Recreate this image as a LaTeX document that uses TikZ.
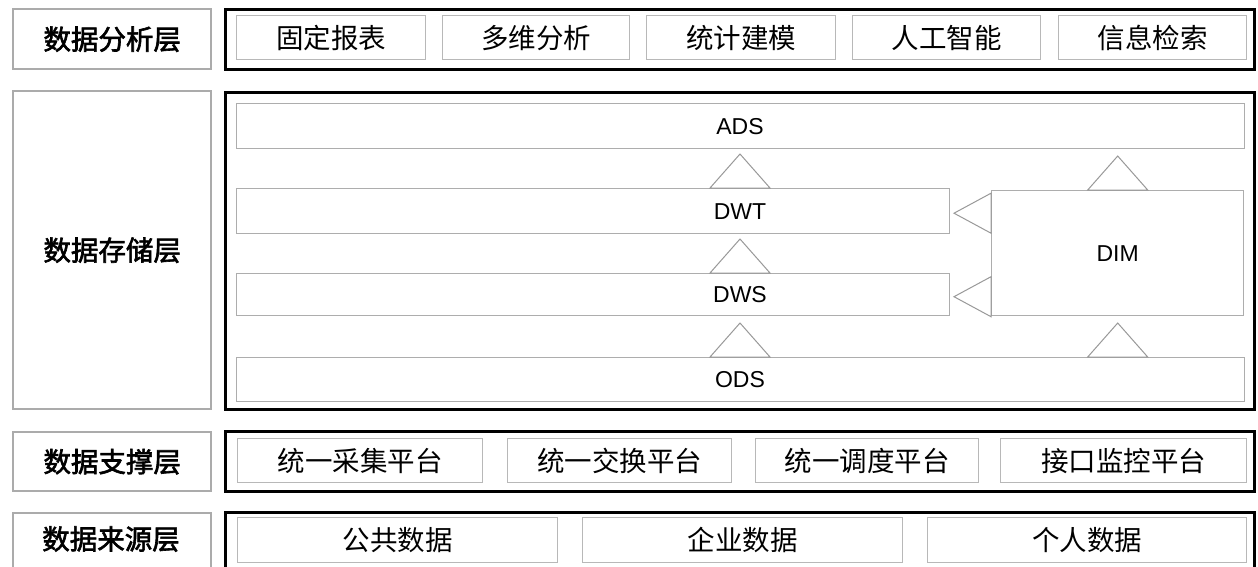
\documentclass[tikz,border=0pt]{standalone}
\usepackage{fontspec}
\setmainfont{Liberation Sans}
\newfontfamily\cjk{Noto Sans CJK SC}
\newfontfamily\cjkb[FakeBold=2.2]{Noto Sans CJK SC}
\newcommand\bx[7]{\node[#2, anchor=north west, minimum width={#5-#3}, minimum height={#6-#4}] (#1) at (#3,#4) {#7};}
\tikzset{
  lbl/.style={draw=black!33, line width=2.4pt, fill=white, inner sep=0pt, font=\cjkb\fontsize{27.5}{30}\selectfont},
  outer/.style={draw=black, line width=3.4pt, inner sep=0pt},
  ibox/.style={draw=black!28, line width=1.4pt, inner sep=0pt, font=\cjk\fontsize{27.5}{30}\selectfont},
  sbox/.style={draw=black!32, line width=1.4pt, inner sep=0pt, font=\fontsize{23}{26}\selectfont},
  txt/.style={inner sep=0pt, font=\fontsize{23}{26}\selectfont},
  tri/.style={draw=black!40, line width=1pt, line join=miter},
  uptri/.pic={\draw[tri] (-30,0) -- (0,-34) -- (30,0) -- cycle;},
  lefttri/.pic={\draw[tri] (0,-20) -- (-37,0) -- (0,20) -- cycle;}
}
\begin{document}
\begin{tikzpicture}[x=1pt,y=-1pt]
\useasboundingbox[fill=white] (0,0) rectangle (1258,566);
% row 1
\bx{l1}{lbl}{12}{8}{210}{68}{数据分析层}
\bx{o1}{outer}{224}{8}{1253}{68}{}
\bx{a1}{ibox}{236}{15}{425}{59}{固定报表}
\bx{a2}{ibox}{442}{15}{629}{59}{多维分析}
\bx{a3}{ibox}{646}{15}{835}{59}{统计建模}
\bx{a4}{ibox}{852}{15}{1040}{59}{人工智能}
\bx{a5}{ibox}{1058}{15}{1246}{59}{信息检索}
% row 2
\bx{l2}{lbl}{12}{90}{210}{408}{数据存储层}
\bx{o2}{outer}{224}{91}{1253}{408}{}
\bx{ads}{sbox}{236}{103}{1244}{148}{}
\bx{dwt}{sbox}{236}{188}{949}{233}{}
\bx{dws}{sbox}{236}{273}{949}{315}{}
\bx{ods}{sbox}{236}{357}{1244}{401}{}
\bx{dim}{sbox}{991}{190}{1243}{315}{DIM}
\coordinate (cx) at (740,0);
\node[txt] (tads) at (ads -| cx) {ADS};
\node[txt] (tdwt) at (dwt -| cx) {DWT};
\node[txt] (tdws) at (dws -| cx) {DWS};
\node[txt] (tods) at (ods -| cx) {ODS};
\pic at (dwt.north -| cx) {uptri};
\pic at (dws.north -| cx) {uptri};
\pic at (ods.north -| cx) {uptri};
\pic at (dim.north) {uptri};
\pic at (ods.north -| dim) {uptri};
\pic at ([yshift=-2]dim.west |- dwt) {lefttri};
\pic at ([yshift=-2]dim.west |- dws) {lefttri};
% row 3
\bx{l3}{lbl}{12}{431}{210}{490}{数据支撑层}
\bx{o3}{outer}{224}{430}{1253}{490}{}
\bx{b1}{ibox}{237}{438}{482}{482}{统一采集平台}
\bx{b2}{ibox}{507}{438}{731}{482}{统一交换平台}
\bx{b3}{ibox}{755}{438}{978}{482}{统一调度平台}
\bx{b4}{ibox}{1000}{438}{1246}{482}{接口监控平台}
% row 4
\bx{l4}{lbl}{12}{512}{210}{620}{}
\node[lbl, draw=none, fill=none] (t4) at (111,539) {数据来源层};
\bx{o4}{outer}{224}{511}{1253}{620}{}
\bx{c1}{ibox}{237}{517}{557}{562}{公共数据}
\bx{c2}{ibox}{582}{517}{902}{562}{企业数据}
\bx{c3}{ibox}{927}{517}{1246}{562}{个人数据}
\end{tikzpicture}
\end{document}
